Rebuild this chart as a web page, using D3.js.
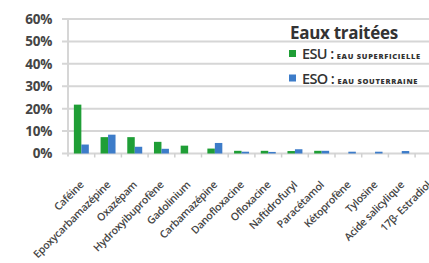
<!DOCTYPE html>
<html><head><meta charset="utf-8">
<script src="https://cdn.jsdelivr.net/npm/d3@7"></script>
<style>
html,body{margin:0;padding:0;background:#fff;overflow:hidden;}
svg{display:block;}
</style></head>
<body>
<svg id="c" width="429" height="263"></svg>
<script>
const categories = ["Caféine","Epoxycarbamazépine","Oxazépam","Hydroxyibuprofène","Gadolinium","Carbamazépine","Danofloxacine","Ofloxacine","Naftidrofuryl","Paracétamol","Kétoprofène","Tylosine","Acide salicylique","17β- Estradiol"];
const esu = [21.8, 7.3, 7.3, 5.2, 3.5, 2.2, 1.2, 1.2, 1.1, 1.2, 0, 0, 0, 0];
const eso = [4.0, 8.4, 3.0, 2.1, 0, 4.7, 0.8, 0.7, 1.9, 1.2, 0.8, 0.8, 1.1, 0];
const yTicks = [0, 10, 20, 30, 40, 50, 60];
const seriesNames = ["ESU", "ESO"];
const seriesDesc = ["EAU SUPERFICIELLE", "EAU SOUTERRAINE"];
const legendTitle = "Eaux traitées";

const colors = ["#1f9e36", "#3d7cc9"];
const svg = d3.select("#c");
const x0 = 68, x1 = 68 + 26.7 * categories.length;
const y = d3.scaleLinear().domain([0, 60]).range([153.5, 19]);
const x = d3.scaleBand().domain(categories).range([x0, x1]).paddingInner(0.44).paddingOuter(0.22);
const xs = d3.scaleBand().domain(seriesNames).range([0, x.bandwidth()]);
const xc = d3.scaleBand().domain(categories).range([x0, x1]);

// gridlines
svg.append("g").selectAll("line").data(yTicks).join("line")
  .attr("x1", 62).attr("x2", 429)
  .attr("y1", d => y(d)).attr("y2", d => y(d))
  .attr("stroke", "#d6d6d6").attr("stroke-width", 2);
// vertical axis
svg.append("line").attr("x1", x0).attr("x2", x0).attr("y1", y(60)).attr("y2", y(0) + 3)
  .attr("stroke", "#d6d6d6").attr("stroke-width", 2);
// category ticks
svg.append("g").selectAll("line").data(categories).join("line")
  .attr("x1", d => xc(d) + xc.bandwidth()).attr("x2", d => xc(d) + xc.bandwidth())
  .attr("y1", y(0)).attr("y2", y(0) + 4)
  .attr("stroke", "#d0d0d0").attr("stroke-width", 1.5);

// y labels
svg.append("g").selectAll("text").data(yTicks).join("text")
  .attr("x", 52).attr("y", d => y(d)).attr("dy", "0.36em")
  .attr("text-anchor", "end")
  .attr("font-family", "Open Sans, sans-serif").attr("font-weight", 700)
  .attr("font-size", 13.5).attr("letter-spacing", -0.3).attr("fill", "#454545")
  .text(d => d + "%");

// bars
const data = [esu, eso];
seriesNames.forEach((s, si) => {
  svg.append("g").selectAll("rect").data(categories).join("rect")
    .attr("x", d => x(d) + xs(s))
    .attr("width", xs.bandwidth())
    .attr("y", (d, i) => y(data[si][i]))
    .attr("height", (d, i) => y(0) - y(data[si][i]))
    .attr("fill", colors[si]);
});

// x labels
svg.append("g").selectAll("text").data(categories).join("text")
  .attr("transform", d => `translate(${xc(d) + xc.bandwidth() / 2 + 3},${y(0) + 32}) rotate(-45)`)
  .attr("text-anchor", "end")
  .attr("font-family", "Open Sans, sans-serif").attr("font-weight", 600)
  .attr("font-size", 10.5).attr("letter-spacing", -0.25).attr("fill", "#454545")
  .text(d => d);

// legend
svg.append("text").attr("x", 290).attr("y", 39)
  .attr("font-family", "Open Sans, sans-serif").attr("font-weight", 700)
  .attr("font-size", 17).attr("letter-spacing", -0.3).attr("fill", "#333")
  .text(legendTitle);
const ly = [53.5, 78];
seriesNames.forEach((s, i) => {
  svg.append("rect").attr("x", 289).attr("y", ly[i] - 3.5).attr("width", 7).attr("height", 7).attr("fill", colors[i]);
  const t = svg.append("text").attr("x", 302).attr("y", ly[i]).attr("dy", "0.36em")
    .attr("font-family", "Open Sans, sans-serif").attr("fill", "#333");
  t.append("tspan").attr("font-size", 14.5).attr("font-weight", 600).attr("letter-spacing", -0.6).text(s + " : ");
  t.append("tspan").attr("font-size", 7.5).attr("font-weight", 800).attr("letter-spacing", 0.7).text(seriesDesc[i]);
});
</script>
</body></html>
